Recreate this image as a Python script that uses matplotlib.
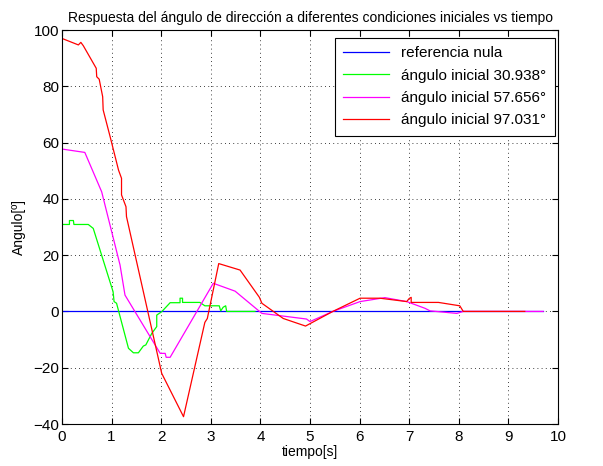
import matplotlib
matplotlib.use("Agg")
import matplotlib.pyplot as plt

plt.rcParams['font.family'] = ['Liberation Sans', 'DejaVu Sans']

# reference line
t_ref = [0, 9.7]
y_ref = [0, 0]

# initial angle 30.938
t_g = [0, 0.15, 0.15, 0.23, 0.24, 0.53, 0.63, 1.03, 1.05, 1.10, 1.34, 1.44, 1.54, 1.64, 1.69,
       1.81, 1.91, 1.91, 2.01, 2.18, 2.38, 2.38, 2.43, 2.43, 2.78, 2.88, 3.17, 3.20, 3.25,
       3.30, 3.32, 3.89]
y_g = [30.9, 30.9, 32.3, 32.3, 30.9, 30.9, 29.5, 7.0, 3.5, 2.9, -13.1, -14.7, -14.7, -12.3, -11.9,
       -7.8, -5.4, -1.3, -0.1, 3.1, 3.1, 4.7, 4.7, 3.2, 3.2, 2.0, 2.0, 0.2, 1.5,
       2.0, 0.0, 0.0]

# initial angle 57.656
t_m = [0, 0.46, 0.80, 1.17, 1.27, 1.98, 2.08, 2.10, 2.18, 3.05, 3.49, 4.03, 4.93, 5.0,
       5.46, 6.01, 6.51, 6.95, 7.32, 7.42, 7.96, 8.09, 9.70]
y_m = [57.7, 56.5, 42.5, 16.5, 5.8, -14.9, -14.9, -16.3, -16.3, 10.0, 7.2, -0.7, -2.7, -3.6,
       0.0, 3.5, 4.9, 3.5, 1.1, 0.2, -0.7, 0.0, 0.0]

# initial angle 97.031
t_r = [0, 0.33, 0.38, 0.43, 0.69, 0.70, 0.75, 0.82, 0.83, 0.97, 1.14, 1.20, 1.20, 1.29,
       1.30, 2.01, 2.45, 2.88, 2.93, 3.16, 3.59, 3.98, 4.03, 4.46, 4.91, 5.46, 6.01, 6.41,
       6.95, 7.0, 7.04, 7.04, 7.59, 8.02, 8.09, 9.33]
y_r = [97.0, 94.7, 95.6, 94.4, 86.4, 83.4, 82.5, 76.3, 71.6, 62.1, 50.2, 47.3, 41.4, 37.2,
       33.7, -22.0, -37.4, -3.9, -2.5, 17.0, 14.7, 5.0, 2.9, -2.5, -5.2, 0.0, 4.7, 4.7,
       3.5, 4.6, 5.0, 3.2, 3.2, 2.0, 0.0, 0.0]

labels = ['referencia nula', 'ángulo inicial 30.938°', 'ángulo inicial 57.656°',
          'ángulo inicial 97.031°']

fig = plt.figure(figsize=(6.03, 4.66), dpi=100)
ax = fig.add_axes([62 / 603, 42 / 466, 496 / 603, 394 / 466])

ax.plot(t_ref, y_ref, color='#0000ff', lw=0.9, label=labels[0])
ax.plot(t_g, y_g, color='#00ff00', lw=0.9, label=labels[1])
ax.plot(t_m, y_m, color='#ff00ff', lw=0.9, label=labels[2])
ax.plot(t_r, y_r, color='#ff0000', lw=0.9, label=labels[3])

ax.set_xlim(0, 10)
ax.set_ylim(-40, 100)
ax.set_xticks(range(0, 11))
ax.set_yticks(range(-40, 101, 20))
ax.grid(True, color='black', linestyle=(0, (1, 4)), linewidth=0.6)
ax.tick_params(direction='in', top=True, right=True, labelsize=11, length=4, pad=2)
ax.tick_params(axis='x', pad=4)
for s in ax.spines.values():
    s.set_linewidth(0.8)

ax.set_title('Respuesta del ángulo de dirección a diferentes condiciones iniciales vs tiempo',
             fontsize=10, pad=6)
ax.set_xlabel('tiempo[s]', fontsize=10, labelpad=1)
ax.set_ylabel('Angulo[º]', fontsize=10, labelpad=5)

leg = ax.legend(loc='upper right', bbox_to_anchor=(0.994, 0.98), borderaxespad=0,
                fontsize=11, fancybox=False, framealpha=1, edgecolor='black',
                handlelength=3.0, labelspacing=0.55, borderpad=0.55)
leg.get_frame().set_linewidth(0.8)

fig.savefig('out.png', dpi=100)
